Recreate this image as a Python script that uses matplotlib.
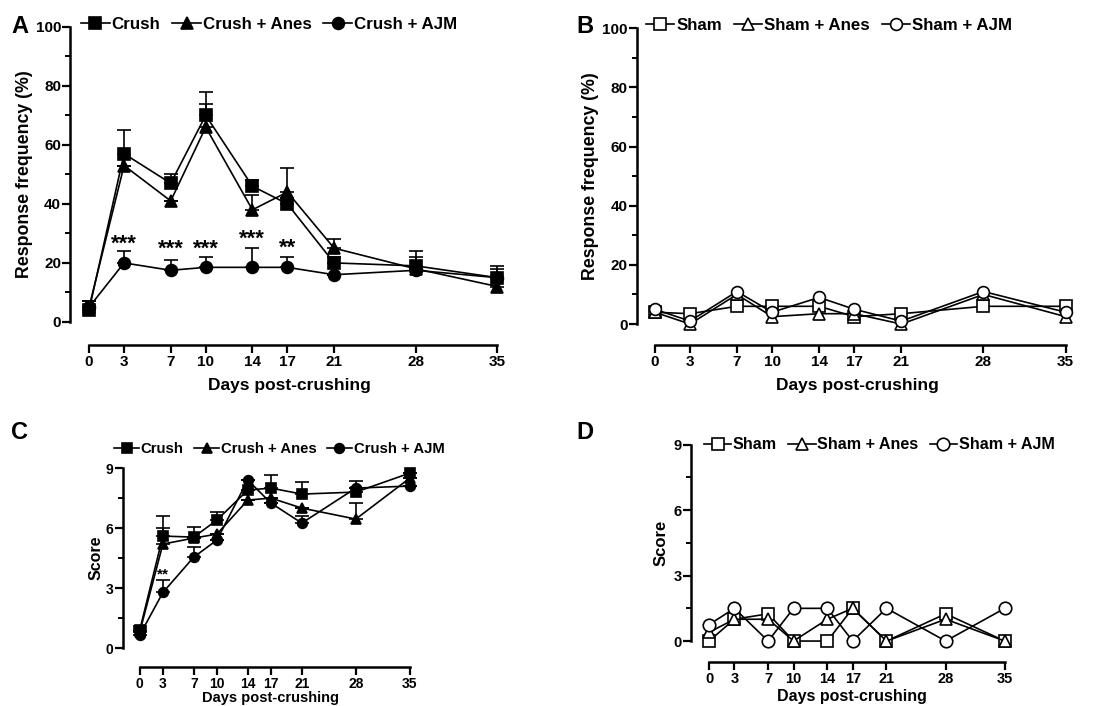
import numpy as np
import matplotlib
matplotlib.use("Agg")
import matplotlib.pyplot as plt
from matplotlib.ticker import MultipleLocator

plt.rcParams["font.family"] = ["Liberation Sans", "DejaVu Sans"]
plt.rcParams["font.weight"] = "bold"
plt.rcParams["axes.labelweight"] = "bold"

days = [0, 3, 7, 10, 14, 17, 21, 28, 35]

# panel A: response frequency (%), crush groups
crush_freq = [4, 57, 47, 70, 46, 40, 20, 19, 15]
crush_freq_err = [3, 8, 3, 8, 2, 2, 2, 5, 4]
anes_freq = [5, 53, 41, 66, 38, 44, 25, 18, 12]
anes_freq_err = [2, 0, 0, 8, 5, 8, 3, 4, 6]
ajm_freq = [5, 20, 17.5, 18.5, 18.5, 18.5, 16, 17.5, 15]
ajm_freq_err = [2, 4, 3.5, 3.5, 6.5, 3.5, 0, 0, 0]
stars_a_x = [3, 7, 10, 14, 17]
stars_a_y = [26.5, 24.5, 24.5, 28, 25]
stars_a_txt = ["***", "***", "***", "***", "**"]

# panel B: response frequency (%), sham groups
sham_freq = [4, 3.5, 6, 6, 6, 2.5, 3.5, 6, 6]
sham_anes_freq = [4, 0, 10, 2.5, 3.5, 3.5, 0, 10, 2.5]
sham_ajm_freq = [5, 1, 11, 4, 9, 5, 1, 11, 4]

# panel C: score, crush groups
crush_score = [0.9, 5.6, 5.55, 6.4, 7.9, 8.0, 7.7, 7.8, 8.75]
crush_score_err = [0.2, 1.0, 0.5, 0.4, 0.0, 0.65, 0.6, 0.55, 0.0]
anes_score = [0.8, 5.2, 5.5, 5.7, 7.4, 7.5, 7.0, 6.45, 8.5]
anes_score_err = [0.2, 0.8, 0.0, 0.0, 0.0, 0.0, 0.0, 0.8, 0.0]
ajm_score = [0.65, 2.78, 4.55, 5.4, 8.4, 7.25, 6.25, 8.0, 8.1]
ajm_score_err = [0.2, 0.62, 0.5, 0.0, 0.0, 0.0, 0.35, 0.0, 0.0]
stars_c_x = [3]
stars_c_y = [3.7]
stars_c_txt = ["**"]

# panel D: score, sham groups
sham_score = [0, 1, 1.25, 0, 0, 1.5, 0, 1.25, 0]
sham_anes_score = [0.4, 1, 1, 0, 1, 1.5, 0, 1, 0]
sham_ajm_score = [0.75, 1.5, 0, 1.5, 1.5, 0, 1.5, 0, 1.5]

fig = plt.figure(figsize=(10.96, 7.06), dpi=100)


def style_axes(ax, ymax, ymajor, yminor, xoffset, tick_fs, xlim):
    ax.set_xlim(*xlim)
    ax.set_ylim(0, ymax)
    ax.spines["top"].set_visible(False)
    ax.spines["right"].set_visible(False)
    ax.spines["left"].set_linewidth(1.8)
    ax.spines["bottom"].set_linewidth(1.8)
    ax.spines["bottom"].set_position(("outward", xoffset))
    ax.spines["bottom"].set_bounds(0, 35)
    ax.set_xticks(days)
    ax.yaxis.set_major_locator(MultipleLocator(ymajor))
    ax.yaxis.set_minor_locator(MultipleLocator(yminor))
    ax.tick_params(axis="both", which="major", width=1.6, length=5.5,
                   labelsize=tick_fs)
    ax.tick_params(axis="y", which="major", pad=1)
    ax.tick_params(axis="x", which="major", pad=2)
    ax.tick_params(axis="y", which="minor", width=1.4, length=3.5)
    ax.tick_params(axis="x", which="minor", length=0)


def draw_group(ax, y, err, marker, filled, label, ms):
    face = "black" if filled else "white"
    if err is not None:
        lower = np.zeros(len(err))
        ax.errorbar(days, y, yerr=[lower, err], fmt="none", ecolor="black",
                    elinewidth=1.2, capsize=5, capthick=1.2, zorder=2, clip_on=False)
    ax.plot(days, y, color="black", lw=1.2, marker=marker, ms=ms,
            mfc=face, mec="black", mew=1.2, label=label, zorder=3, clip_on=False)


def add_legend(ax, x0, y0, fs):
    ax.legend(loc="center left", bbox_to_anchor=(x0, y0), ncol=3, frameon=False,
              fontsize=fs, handlelength=1.7, handletextpad=0.1, columnspacing=0.7,
              borderaxespad=0, borderpad=0)


# ---- A ----
axA = fig.add_axes([0.0639, 0.544, 0.4006, 0.418])
style_axes(axA, 100, 20, 10, 16.5, 11, (-1.63, 36))
draw_group(axA, crush_freq, crush_freq_err, "s", True, "Crush", 8.5)
draw_group(axA, anes_freq, anes_freq_err, "^", True, "Crush + Anes", 8.5)
draw_group(axA, ajm_freq, ajm_freq_err, "o", True, "Crush + AJM", 8.5)
for sx, sy, st in zip(stars_a_x, stars_a_y, stars_a_txt):
    axA.text(sx, sy, st, ha="center", va="center", fontsize=16)
axA.set_ylabel("Response frequency (%)", fontsize=12.8, labelpad=2)
axA.set_xlabel("Days post-crushing", fontsize=12.5, labelpad=6)
add_legend(axA, 0.025, 1.007, 12.2)
fig.text(0.010, 0.962, "A", fontsize=17, fontweight="bold", va="center")

# ---- B ----
axB = fig.add_axes([0.581, 0.541, 0.402, 0.419])
style_axes(axB, 100, 20, 10, 15, 11, (-1.53, 36))
draw_group(axB, sham_freq, None, "s", False, "Sham", 8.5)
draw_group(axB, sham_anes_freq, None, "^", False, "Sham + Anes", 8.5)
draw_group(axB, sham_ajm_freq, None, "o", False, "Sham + AJM", 8.5)
axB.set_ylabel("Response frequency (%)", fontsize=12.8, labelpad=2)
axB.set_xlabel("Days post-crushing", fontsize=12.5, labelpad=6)
add_legend(axB, 0.02, 1.01, 12.2)
fig.text(0.526, 0.962, "B", fontsize=17, fontweight="bold", va="center")

# ---- C ----
axC = fig.add_axes([0.112, 0.082, 0.269, 0.255])
style_axes(axC, 9, 3, 1.5, 13.5, 10, (-2.2, 36))
draw_group(axC, crush_score, crush_score_err, "s", True, "Crush", 7)
draw_group(axC, anes_score, anes_score_err, "^", True, "Crush + Anes", 7)
draw_group(axC, ajm_score, ajm_score_err, "o", True, "Crush + AJM", 7)
for sx, sy, st in zip(stars_c_x, stars_c_y, stars_c_txt):
    axC.text(sx, sy, st, ha="center", va="center", fontsize=11)
axC.set_ylabel("Score", fontsize=11.5, labelpad=2)
axC.set_xlabel("Days post-crushing", fontsize=10.5, labelpad=0)
add_legend(axC, -0.03, 1.105, 10.7)
fig.text(0.010, 0.388, "C", fontsize=17, fontweight="bold", va="center")

# ---- D ----
axD = fig.add_axes([0.6305, 0.092, 0.294, 0.278])
style_axes(axD, 9, 3, 1.5, 15, 10.5, (-2.13, 36))
draw_group(axD, sham_score, None, "s", False, "Sham", 9)
draw_group(axD, sham_anes_score, None, "^", False, "Sham + Anes", 9)
draw_group(axD, sham_ajm_score, None, "o", False, "Sham + AJM", 9)
axD.set_ylabel("Score", fontsize=12, labelpad=4)
axD.set_xlabel("Days post-crushing", fontsize=11.5, labelpad=2)
add_legend(axD, 0.04, 1.0, 11.6)
fig.text(0.526, 0.388, "D", fontsize=17, fontweight="bold", va="center")

fig.savefig("out.png", dpi=100)
